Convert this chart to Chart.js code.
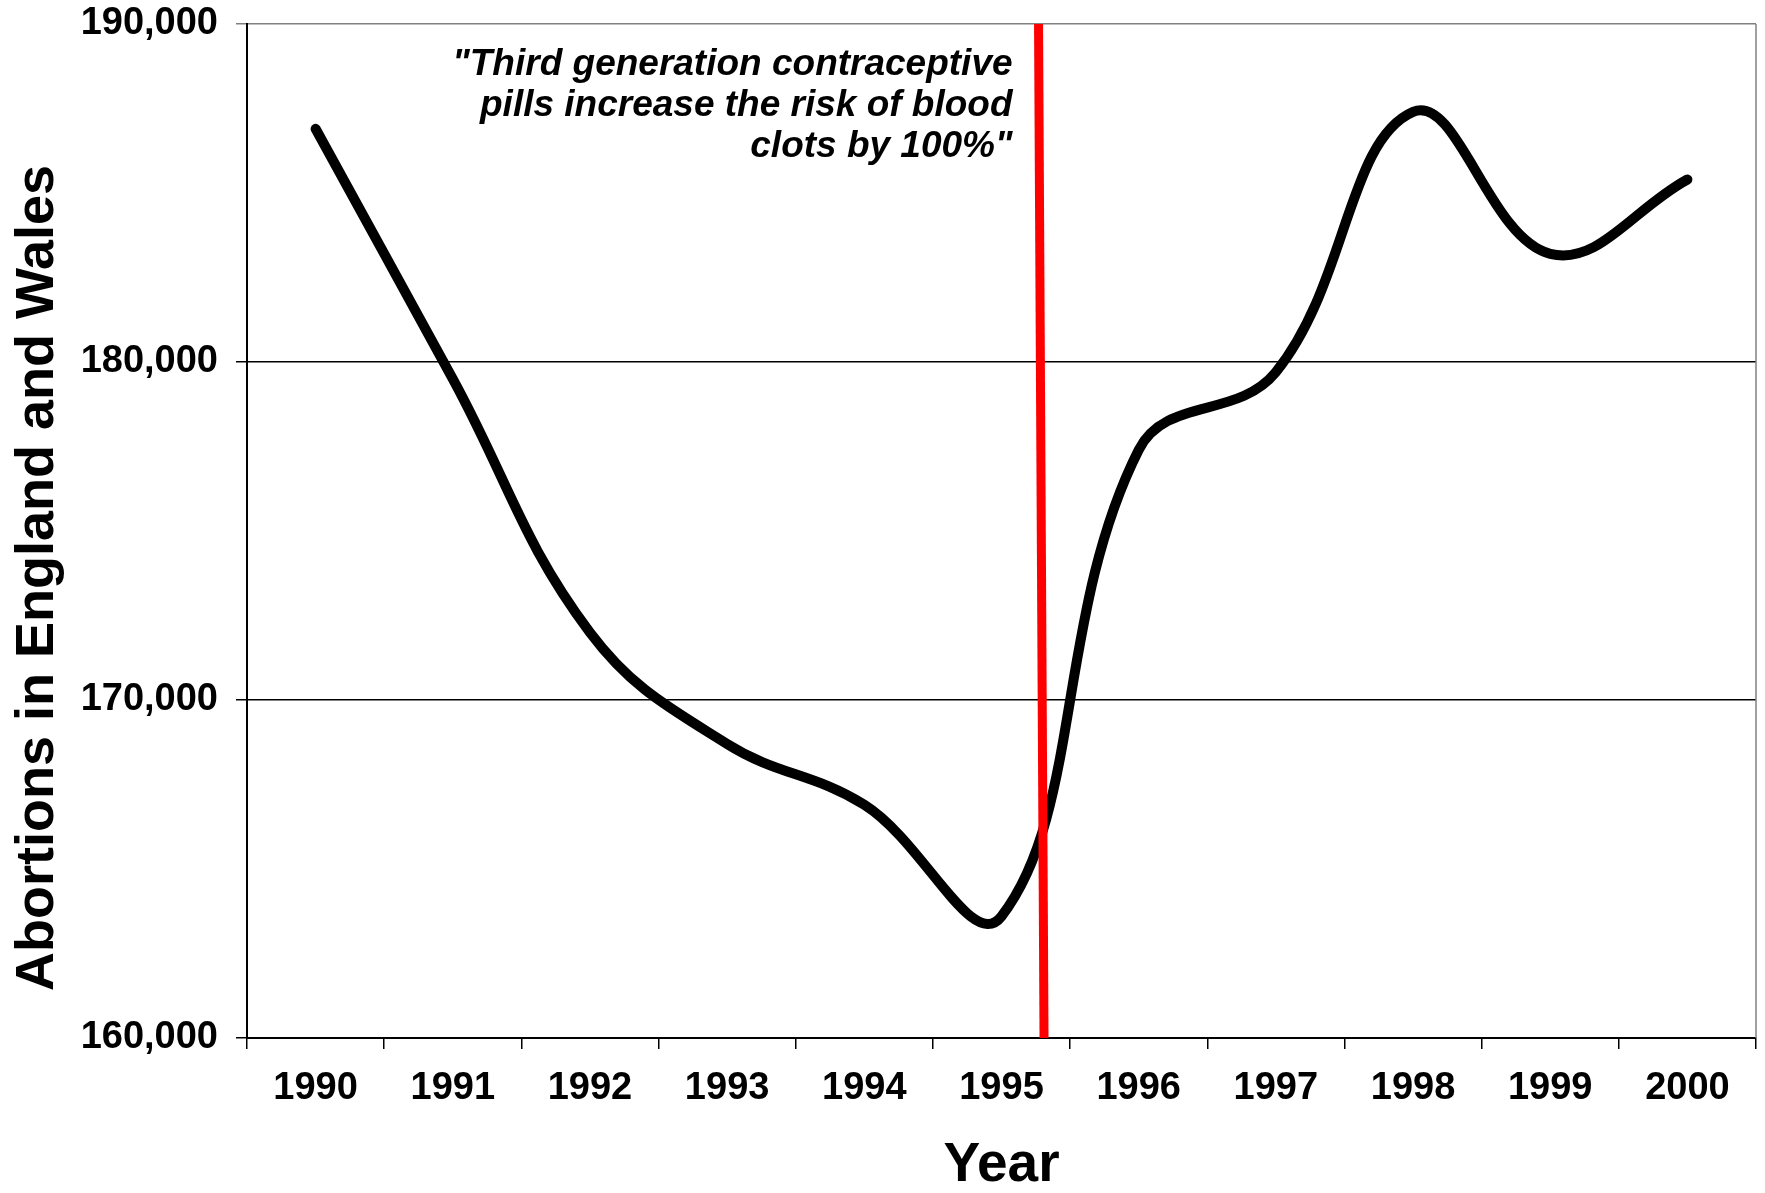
<!DOCTYPE html>
<html>
<head>
<meta charset="utf-8">
<script src="https://cdn.jsdelivr.net/npm/chart.js@4"></script>
<style>
  body { margin: 0; background: #fff; }
  #wrap { width: 1765px; height: 1193px; }
</style>
</head>
<body>
<div id="wrap"><canvas id="chart" width="1765" height="1193"></canvas></div>
<script>
// data
const years = ['1990', '1991', '1992', '1993', '1994', '1995', '1996', '1997', '1998', '1999', '2000'];
const abortions = [186900, 179500, 172000, 168700, 166900, 163600, 177400, 179700, 187400, 183200, 185400];
const yTicks = [160000, 170000, 180000, 190000];
// red marker line (slightly slanted), in year units
const markerX = [1995.27, 1995.31];
const markerY = [190000, 160000];
const noteLines = ['"Third generation contraceptive', 'pills increase the risk of blood', 'clots by 100%"'];
const yTitle = 'Abortions in England and Wales';

const FONT = "'Liberation Sans', Arial, sans-serif";

const extras = {
  id: 'extras',
  afterDraw(chart) {
    const { ctx, chartArea: a } = chart;
    ctx.save();
    // right frame
    ctx.strokeStyle = '#808080';
    ctx.lineWidth = 1.5;
    ctx.beginPath();
    ctx.moveTo(a.right, a.top);
    ctx.lineTo(a.right, a.bottom);
    ctx.stroke();
    // y axis title, sits a bit below the middle like the original
    ctx.translate(38, 578);
    ctx.rotate(-Math.PI / 2);
    ctx.fillStyle = '#000';
    ctx.font = 'bold 54px ' + FONT;
    ctx.textAlign = 'center';
    ctx.textBaseline = 'middle';
    ctx.fillText(yTitle, 0, 0);
    ctx.restore();
  },
  afterDatasetsDraw(chart) {
    const { ctx } = chart;
    const xv = chart.scales.xv, y = chart.scales.y;
    const right = xv.getPixelForValue(markerX[0]) - 26;
    const top = y.getPixelForValue(190000) + 41;
    ctx.save();
    ctx.fillStyle = '#000';
    ctx.font = 'italic bold 37px ' + FONT;
    ctx.textAlign = 'right';
    ctx.textBaseline = 'middle';
    noteLines.forEach((t, i) => ctx.fillText(t, right, top + i * 41));
    ctx.restore();
  }
};

new Chart(document.getElementById('chart').getContext('2d'), {
  type: 'line',
  data: {
    labels: years,
    datasets: [{
      label: 'marker',
      data: markerX.map((x, i) => ({ x: x, y: markerY[i] })),
      xAxisID: 'xv',
      borderColor: '#ff0000',
      borderWidth: 9,
      pointRadius: 0,
      tension: 0,
      order: 0
    }, {
      label: 'Abortions',
      data: abortions,
      borderColor: '#000',
      borderWidth: 10,
      borderCapStyle: 'round',
      pointRadius: 0,
      tension: 0.4,
      fill: false,
      order: 1
    }]
  },
  options: {
    responsive: false,
    animation: false,
    layout: { padding: { top: 24, right: 9, left: 0, bottom: 0 } },
    plugins: { legend: { display: false }, tooltip: { enabled: false } },
    scales: {
      x: {
        type: 'category',
        offset: true,
        afterFit(s) { s.height = 155; },
        grid: { offset: true, drawOnChartArea: false, color: '#000', lineWidth: 1.5, tickLength: 11 },
        border: { color: '#000', width: 2 },
        ticks: { color: '#000', padding: 17, font: { family: FONT, size: 38, weight: 'bold' }, maxRotation: 0 },
        title: { display: true, text: 'Year', color: '#000', font: { family: FONT, size: 55, weight: 'bold', lineHeight: 1 }, padding: { top: 0, bottom: 0 } }
      },
      xv: {
        type: 'linear',
        display: false,
        min: 1989.5,
        max: 2000.5
      },
      y: {
        min: 160000,
        max: 190000,
        afterFit(s) { s.width = 247; s.paddingTop = 0; s.paddingBottom = 0; },
        afterBuildTicks(s) { s.ticks = yTicks.map(v => ({ value: v })); },
        grid: {
          color: c => c.tick && c.tick.value === 190000 ? '#808080' : '#000',
          lineWidth: 1.5,
          tickLength: 11
        },
        border: { color: '#000', width: 2 },
        ticks: {
          color: '#000',
          padding: 18,
          font: { family: FONT, size: 38, weight: 'bold' },
          callback: v => v.toLocaleString('en-US')
        }
      }
    }
  },
  plugins: [extras]
});
</script>
</body>
</html>
